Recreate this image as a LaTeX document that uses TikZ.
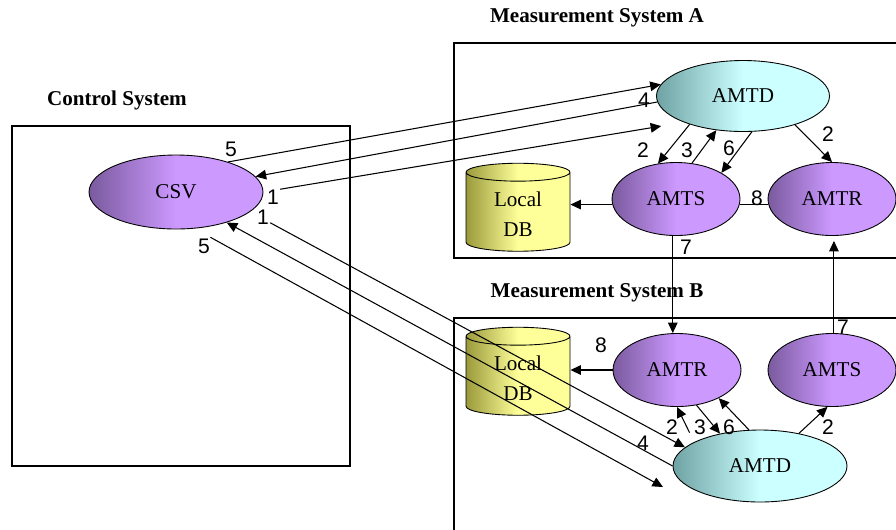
\documentclass[tikz,border=0pt]{standalone}
\usepackage{fontspec}
\setmainfont{Liberation Serif}
\newfontfamily\numfont{Liberation Sans}
\usepackage{tikz}
\usetikzlibrary{shapes, arrows.meta, positioning}

\definecolor{violetLight}{HTML}{CC99FF}
\definecolor{violetDark}{HTML}{7A5A9E}
\definecolor{cyanLight}{HTML}{CCFFFF}
\definecolor{cyanDark}{HTML}{6FA3A3}
\definecolor{dbLight}{HTML}{FFFF99}
\definecolor{dbDark}{HTML}{9A9A3C}

\begin{document}
\begin{tikzpicture}[
        x=0.02cm, y=-0.02cm,
        font=\fontsize{12}{14}\selectfont,
        agent/.style={
          ellipse,
          draw,
          line width=0.5pt,
          inner sep=0pt,
          minimum width=2.56cm,
          minimum height=1.46cm,
          left color=violetDark,
          right color=violetLight,
          middle color=violetLight
        },
        director/.style={
          agent,
          minimum width=3.46cm,
          minimum height=1.42cm,
          left color=cyanDark,
          right color=cyanLight,
          middle color=cyanLight
        },
        database/.style={
          cylinder,
          shape border rotate=90,
          aspect=0.3,
          draw,
          line width=0.5pt,
          minimum width=2.08cm,
          minimum height=1.76cm,
          align=center,
          font=\fontsize{12}{17}\selectfont,
          left color=dbDark,
          right color=dbLight,
          middle color=dbLight
        },
        system/.style={draw, line width=0.6pt},
        title/.style={font=\fontsize{12}{14}\selectfont\bfseries},
        num/.style={font=\fontsize{12}{14}\selectfont\numfont, inner sep=0pt},
        line/.style={-{Triangle[length=6pt, width=5.5pt]}, line width=0.6pt},
        link/.style={line width=0.6pt}
    ]
    \useasboundingbox (0,0) rectangle (896,529);

    % System frames
    \draw[system] (12,126) rectangle (350,466);
    \draw[system] (454,43) rectangle (902,258);
    \draw[system] (454,318) rectangle (902,540);
    \node[title] (ctrlTitle) at (117,100) {Control System};
    \node[title] (sysATitle) at (597,18) {Measurement System A};
    \node[title] (sysBTitle) at (597,293) {Measurement System B};

    % Define the nodes
    \node[agent, minimum width=3.48cm, minimum height=1.48cm] (csv) at (176,192) {CSV};
    \node[director] (amtdA) at (743,96) {AMTD};
    \node[agent] (amtsA) at (676,199) {AMTS};
    \node[agent] (amtrA) at (832,199) {AMTR};
    \node[database] (dbA) at (518,214) {Local\\DB};
    \node[database] (dbB) at (518,378) {Local\\DB};
    \node[agent] (amtrB) at (677,370) {AMTR};
    \node[agent] (amtsB) at (832,370) {AMTS};
    \node[director, minimum width=3.48cm, minimum height=1.44cm] (amtdB) at (760,466) {AMTD};
    \coordinate (lostEnd) at (663,487);

    % Control system to system A
    \draw[line] (csv.30) -- (amtdA.172);
    \draw[line] (amtdA.184) -- (csv.11);
    \draw[line, shorten <=0.34cm, shorten >=0.46cm] (csv.east) -- (amtdA.204);

    % Control system to system B
    \draw[line, shorten <=0.46cm] (csv.345) -- (amtdB.166);
    \draw[line] (amtdB.west) -- (csv.329);
    \draw[line, shorten <=0.36cm] (csv.297) -- (lostEnd);

    % Inside system A
    \draw[line] (amtdA.208) -- (amtsA.117);
    \draw[line] (amtsA.66) -- (amtdA.232);
    \draw[line] (amtdA.284) -- (amtsA.30);
    \draw[line] (amtdA.331) -- (amtrA.north);
    \draw[line] (amtsA.185) -- (amtsA.185 -| dbA.east);
    \draw[link] (amtsA.355) -- (amtrA.185);

    % Between A and B
    \draw[line] (amtsA.265) -- (amtsA.265 |- amtrB.north);
    \draw[line, shorten >=0.1cm] (amtsB.87) -- (amtsB.87 |- amtrA.south);

    % Inside system B
    \draw[line, shorten <=0.21cm] (amtdB.160) -- (amtrB.270);
    \draw[line] (amtrB.299) -- (amtdB.141);
    \draw[line] (amtdB.107) -- (amtrB.326);
    \draw[line] (amtdB.40) -- (amtsB.263);
    \draw[line] (amtrB.west) -- (amtrB.west -| dbB.east);

    % Message numbers
    \node[num] (numTopFive) at (231,149) {5};
    \node[num] (numTopFour) at (644,100) {4};
    \node[num] (numTopOne) at (273,197) {1};
    \node[num] (numBotOne) at (263,217) {1};
    \node[num] (numBotFive) at (204,246) {5};
    \node[num] (numBotFour) at (643,443) {4};
    \node[num] (numAtwo) at (643,150) {2};
    \node[num] (numAthree) at (687,150) {3};
    \node[num] (numAsix) at (729,148) {6};
    \node[num] (numAtwoR) at (828,134) {2};
    \node[num] (numAeight) at (757,198) {8};
    \node[num] (numAseven) at (686,247) {7};
    \node[num] (numBeight) at (601,345) {8};
    \node[num] (numBseven) at (843,327) {7};
    \node[num] (numBtwo) at (672,427) {2};
    \node[num] (numBthree) at (700,427) {3};
    \node[num] (numBsix) at (729,427) {6};
    \node[num] (numBtwoR) at (828,427) {2};

\end{tikzpicture}
\end{document}
